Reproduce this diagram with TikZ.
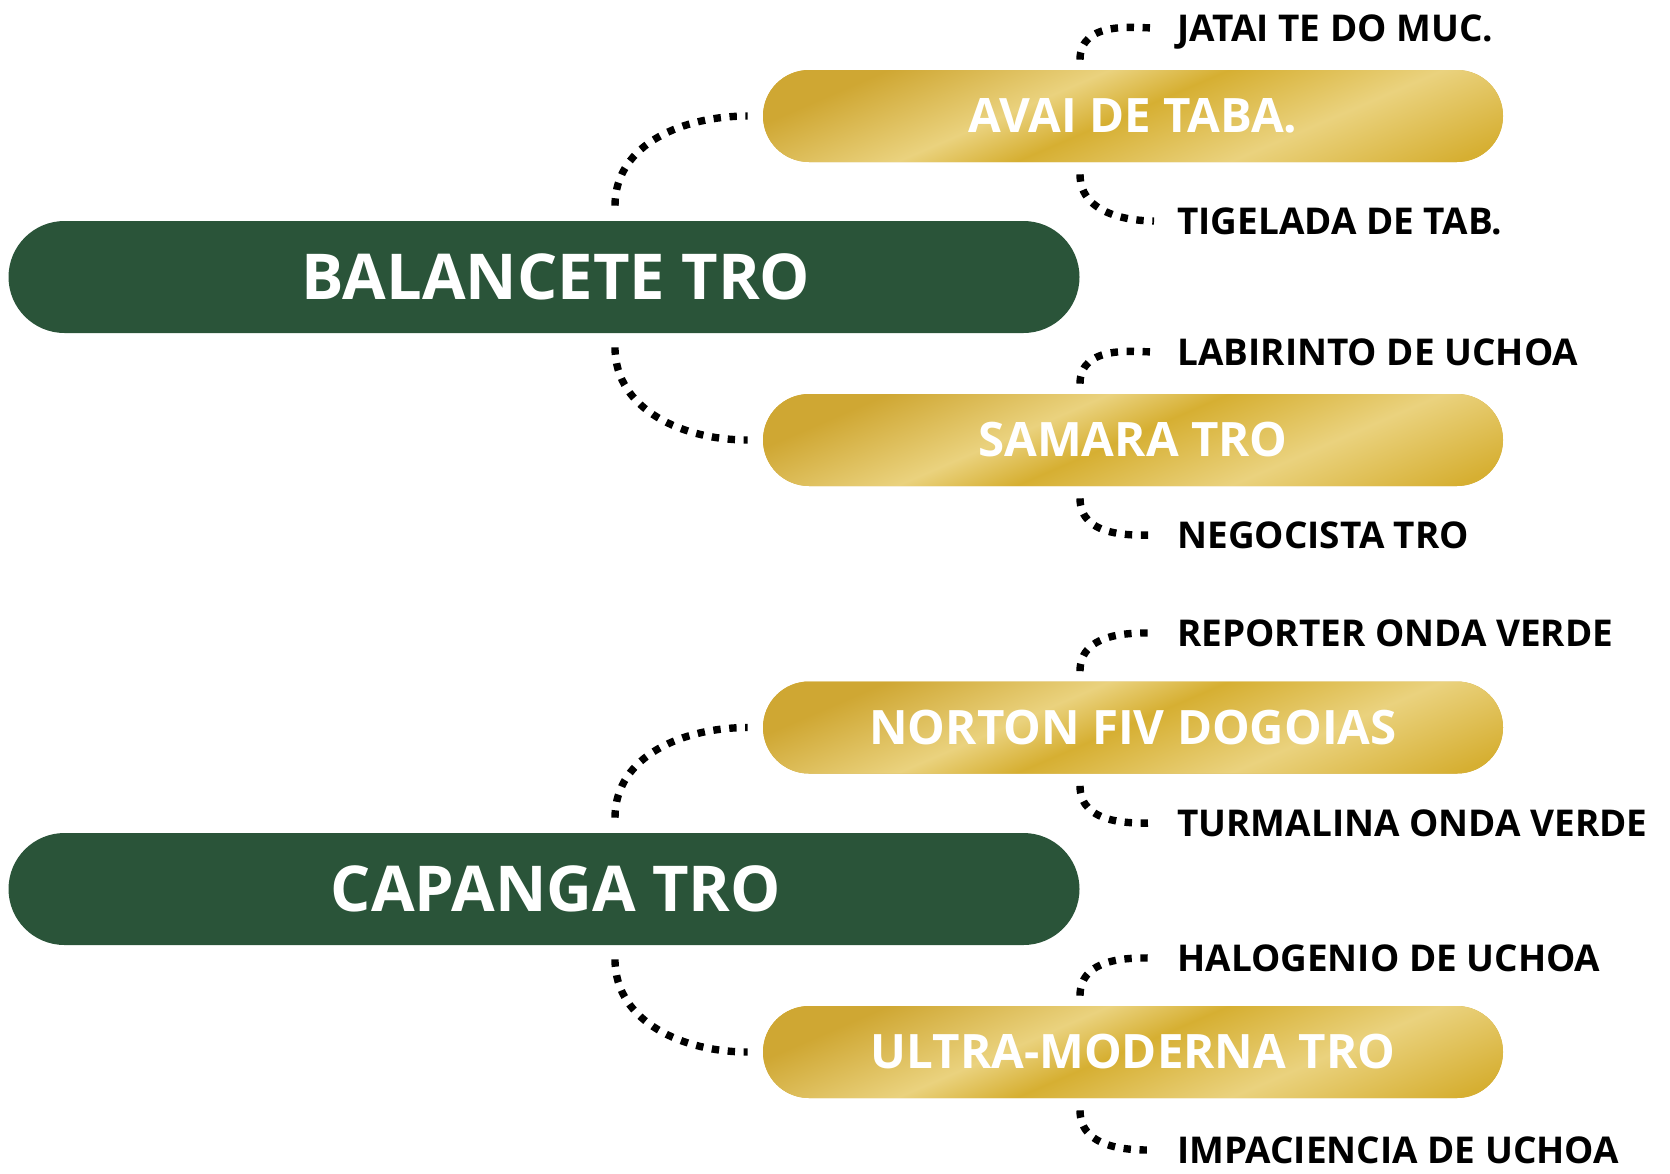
\documentclass[tikz,border=0pt]{standalone}
\usepackage{fontspec}
\setmainfont{Open Sans}
\usepackage{xcolor}
\usetikzlibrary{calc}
\definecolor{pine}{RGB}{42,84,57}
\definecolor{golddark}{RGB}{207,167,51}
\definecolor{goldlight}{RGB}{234,210,126}
\definecolor{goldmid}{RGB}{214,175,50}
\pgfdeclarehorizontalshading{goldsheen}{100bp}{color(0bp)=(golddark); color(37.5bp)=(golddark); color(40.8bp)=(golddark); color(46.6bp)=(goldlight); color(49.7bp)=(goldmid); color(55.3bp)=(goldlight); color(61.2bp)=(goldmid); color(100bp)=(goldmid)}
\tikzset{
	topic/.style={fill=pine, text=white, font=\bfseries\fontsize{36}{40}\selectfont,
			minimum width=21.42cm, minimum height=2.24cm, rounded corners=1.12cm,
			inner sep=0pt, text height=25.8pt, text depth=0pt},
	subtopic/.style={fill=golddark, text=white, font=\bfseries\fontsize{27}{31}\selectfont,
			minimum width=14.8cm, minimum height=1.84cm, rounded corners=0.92cm,
			inner sep=0pt, text height=19.3pt, text depth=0pt,
			path picture={\shade[shading=goldsheen, shading angle=-66.7]
					([shift={(-7.6cm,-7.6cm)}]path picture bounding box.center) rectangle ++(15.2cm,15.2cm);}},
	leaf/.style={anchor=west, inner sep=0pt, font=\bfseries\fontsize{21}{25}\selectfont,
			text height=15.1pt, text depth=0pt},
	dots/.style={line width=4.2pt, dash pattern=on 4.2pt off 4.9pt},
	twig/.style={dots, shorten >=0.46cm}
}
\begin{document}
\begin{tikzpicture}
	\useasboundingbox (0,0) rectangle (33.4,-23.46);

	% Main topics
	\node[topic] (balancete) at (10.88,-5.54) {\hspace*{0.48cm}BALANCETE TRO};
	\node[topic] (capanga) at (10.88,-17.78) {\hspace*{0.48cm}CAPANGA TRO};

	% Sub topics
	\node[subtopic] (avai) at (22.66,-2.32) {AVAI DE TABA.};
	\node[subtopic] (samara) at (22.66,-8.8) {SAMARA TRO};
	\node[subtopic] (norton) at (22.66,-14.55) {NORTON FIV DOGOIAS};
	\node[subtopic] (ultra) at (22.66,-21.04) {ULTRA-MODERNA TRO};

	% Leaves
	\node[leaf] (jatai) at (23.54,-0.56) {JATAI TE DO MUC.};
	\node[leaf] (tigelada) at (23.54,-4.42) {TIGELADA DE TAB.};
	\node[leaf] (labirinto) at (23.54,-7.04) {LABIRINTO DE UCHOA};
	\node[leaf] (negocista) at (23.54,-10.7) {NEGOCISTA TRO};
	\node[leaf] (reporter) at (23.54,-12.66) {REPORTER ONDA VERDE};
	\node[leaf] (turmalina) at (23.54,-16.46) {TURMALINA ONDA VERDE};
	\node[leaf] (halogenio) at (23.54,-19.16) {HALOGENIO DE UCHOA};
	\node[leaf] (impaciencia) at (23.54,-23.0) {IMPACIENCIA DE UCHOA};

	% Topic to sub topic
	\draw[dots] ([xshift=1.42cm,yshift=0.3cm]balancete.north) to[out=90,in=180] ([xshift=-0.3cm]avai.west);
	\draw[dots] ([xshift=1.42cm,yshift=-0.28cm]balancete.south) to[out=-90,in=180] ([xshift=-0.3cm]samara.west);
	\draw[dots] ([xshift=1.42cm,yshift=0.3cm]capanga.north) to[out=90,in=180] ([xshift=-0.3cm]norton.west);
	\draw[dots] ([xshift=1.42cm,yshift=-0.28cm]capanga.south) to[out=-90,in=180] ([xshift=-0.3cm]ultra.west);

	% Sub topic to leaf
	\draw[twig] ([xshift=-1.06cm,yshift=0.2cm]avai.north) to[out=90,in=180] (jatai.west);
	\draw[twig] ([xshift=-1.06cm,yshift=-0.24cm]avai.south) to[out=-90,in=180] (tigelada.west);
	\draw[twig] ([xshift=-1.06cm,yshift=0.2cm]samara.north) to[out=90,in=180] (labirinto.west);
	\draw[twig] ([xshift=-1.06cm,yshift=-0.24cm]samara.south) to[out=-90,in=180] (negocista.west);
	\draw[twig] ([xshift=-1.06cm,yshift=0.2cm]norton.north) to[out=90,in=180] (reporter.west);
	\draw[twig] ([xshift=-1.06cm,yshift=-0.24cm]norton.south) to[out=-90,in=180] (turmalina.west);
	\draw[twig] ([xshift=-1.06cm,yshift=0.2cm]ultra.north) to[out=90,in=180] (halogenio.west);
	\draw[twig] ([xshift=-1.06cm,yshift=-0.24cm]ultra.south) to[out=-90,in=180] (impaciencia.west);
\end{tikzpicture}
\end{document}
